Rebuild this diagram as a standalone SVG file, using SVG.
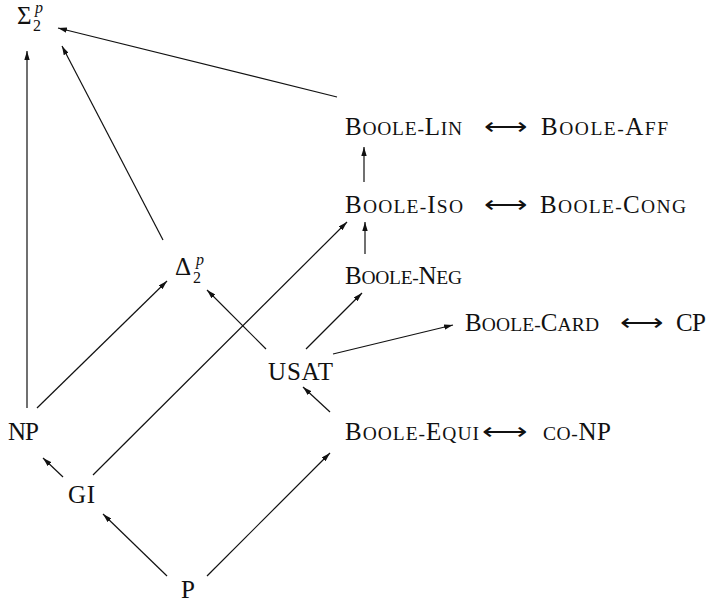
<svg xmlns="http://www.w3.org/2000/svg" width="715" height="604" viewBox="0 0 715 604">
<defs>
<marker id="ah" viewBox="0 0 10 6" refX="10" refY="3" markerWidth="9" markerHeight="5.4" markerUnits="userSpaceOnUse" orient="auto">
<path d="M0,0 L10,3 L0,6 z" fill="#111"/>
</marker>
</defs>
<style>
.t{font-family:"Liberation Serif","Times New Roman",serif;font-size:25px;fill:#111}
.s{font-size:19.5px;text-transform:uppercase}
.sub{font-size:16px}
.sup{font-size:16px;font-style:italic}
.eq{font-family:"DejaVu Sans",sans-serif;font-weight:200;font-size:24px;fill:#111}
.e{stroke:#111;stroke-width:1.2;fill:none;marker-end:url(#ah)}
</style>
<rect width="715" height="604" fill="#fff"/>
<g id="connectors">
<line class="e" x1="27" y1="408" x2="27" y2="51"/>
<line class="e" x1="163" y1="240" x2="62" y2="46"/>
<line class="e" x1="337" y1="97" x2="58" y2="28"/>
<line class="e" x1="266" y1="349" x2="207" y2="290"/>
<line class="e" x1="93" y1="475" x2="347" y2="222"/>
<line class="e" x1="37" y1="408" x2="167" y2="281"/>
<line class="e" x1="306" y1="349" x2="362" y2="293"/>
<line class="e" x1="333" y1="354" x2="453" y2="325"/>
<line class="e" x1="330" y1="412" x2="303" y2="387"/>
<line class="e" x1="63" y1="477" x2="43" y2="458"/>
<line class="e" x1="167" y1="576" x2="103" y2="514"/>
<line class="e" x1="207" y1="576" x2="330" y2="453"/>
<line class="e" x1="364" y1="182" x2="364" y2="147"/>
<line class="e" x1="365" y1="254" x2="365" y2="222"/>
</g>
<g id="sigma2p"><text class="t" x="17" y="24" font-size="26">Σ<tspan class="sub" x="33" y="31">2</tspan><tspan class="sup" x="35" y="13">p</tspan></text></g>
<g id="delta2p"><text class="t" x="175" y="275">Δ<tspan class="sub" x="193" y="283">2</tspan><tspan class="sup" x="196" y="265">p</tspan></text></g>
<g id="boole-lin"><text class="t" x="345" y="135" textLength="117" lengthAdjust="spacing">B<tspan class="s">oole-</tspan>L<tspan class="s">in</tspan></text></g>
<g id="eq-lin"><text class="eq" x="484" y="135" textLength="43" lengthAdjust="spacingAndGlyphs">⟷</text></g>
<g id="boole-aff"><text class="t" x="541" y="135" textLength="127" lengthAdjust="spacing">B<tspan class="s">oole-</tspan>A<tspan class="s">ff</tspan></text></g>
<g id="boole-iso"><text class="t" x="345" y="213" textLength="118" lengthAdjust="spacing">B<tspan class="s">oole-</tspan>I<tspan class="s">so</tspan></text></g>
<g id="eq-iso"><text class="eq" x="484" y="213" textLength="43" lengthAdjust="spacingAndGlyphs">⟷</text></g>
<g id="boole-cong"><text class="t" x="540" y="213" textLength="146" lengthAdjust="spacing">B<tspan class="s">oole-</tspan>C<tspan class="s">ong</tspan></text></g>
<g id="boole-neg"><text class="t" x="345" y="284" textLength="117" lengthAdjust="spacing">B<tspan class="s">oole-</tspan>N<tspan class="s">eg</tspan></text></g>
<g id="boole-card"><text class="t" x="465" y="331" textLength="134" lengthAdjust="spacing">B<tspan class="s">oole-</tspan>C<tspan class="s">ard</tspan></text></g>
<g id="eq-card"><text class="eq" x="620" y="331" textLength="43" lengthAdjust="spacingAndGlyphs">⟷</text></g>
<g id="cp"><text class="t" x="676" y="331" textLength="30" lengthAdjust="spacing">CP</text></g>
<g id="usat"><text class="t" x="268" y="380" textLength="65" lengthAdjust="spacing">USAT</text></g>
<g id="boole-equi"><text class="t" x="345" y="440" textLength="134" lengthAdjust="spacing">B<tspan class="s">oole-</tspan>E<tspan class="s">qui</tspan></text></g>
<g id="eq-equi"><text class="eq" x="482" y="440" textLength="45" lengthAdjust="spacingAndGlyphs">⟷</text></g>
<g id="co-np"><text class="t" x="543" y="440" textLength="68" lengthAdjust="spacing"><tspan class="s">co-</tspan>NP</text></g>
<g id="np"><text class="t" x="8" y="440" textLength="31" lengthAdjust="spacing">NP</text></g>
<g id="gi"><text class="t" x="68" y="503" textLength="27" lengthAdjust="spacing">GI</text></g>
<g id="p"><text class="t" x="181" y="598">P</text></g>
</svg>
